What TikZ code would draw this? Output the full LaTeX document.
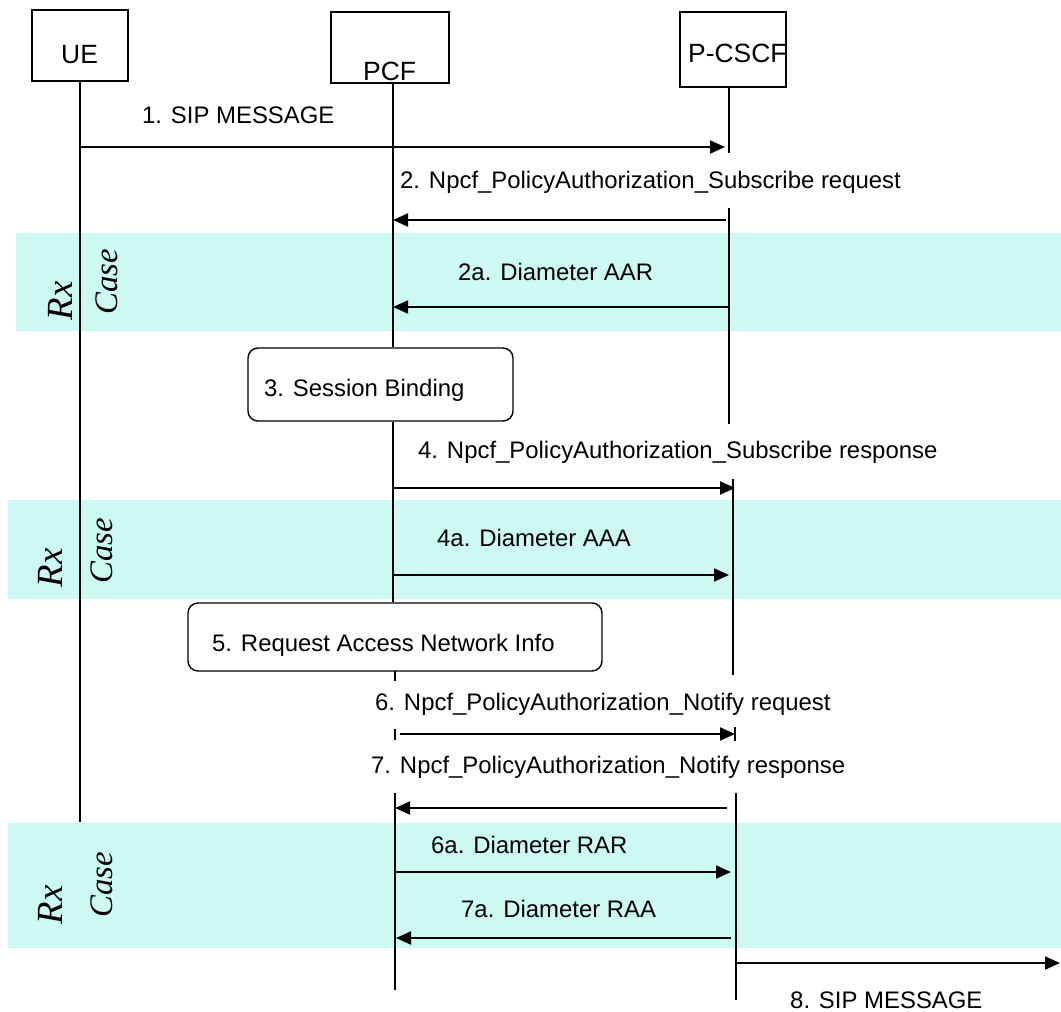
\documentclass[tikz,border=0pt]{standalone}
\usepackage{fontspec}
\setmainfont{Liberation Sans}
\newfontfamily\rxfont{Liberation Serif}
\usetikzlibrary{arrows.meta}
\definecolor{bandcol}{RGB}{204,250,242}
\begin{document}
\begin{tikzpicture}[x=1bp,y=-1bp,
  band/.style={fill=bandcol,draw=none},
  actor/.style={draw,line width=1.4bp,inner sep=0pt},
  proc/.style={draw,line width=1.4bp,rounded corners=10bp,inner sep=0pt},
  atext/.style={font=\fontsize{26.5}{30}\selectfont,inner sep=0pt,anchor=base west},
  lbl/.style={font=\fontsize{24}{28}\selectfont,inner sep=0pt,anchor=base west},
  life/.style={line width=1.5bp},
  msg/.style={line width=2bp,-{Triangle[length=15bp,width=13bp]}},
  rx/.style={font=\fontsize{37}{40}\selectfont\rxfont\itshape,rotate=90,anchor=base,inner sep=0pt},
  cs/.style={font=\fontsize{33}{36}\selectfont\rxfont\itshape,rotate=90,anchor=base,inner sep=0pt}]
\useasboundingbox (0,0) rectangle (1061,1012);
% bands
\fill[band] (16,233) rectangle (1061,331);
\fill[band] (8,500) rectangle (1061,599);
\fill[band] (8,823) rectangle (1061,948);
\node[rx] (rx1) at (72,301) {Rx};
\node[cs] (cs1) at (117,282) {Case};
\node[rx] (rx2) at (62,568) {Rx};
\node[cs] (cs2) at (112,551) {Case};
\node[rx] (rx3) at (62,905) {Rx};
\node[cs] (cs3) at (112,885) {Case};
% actors
\node[actor,minimum width=96bp,minimum height=71bp] (ue) at (80,45.5) {};
\node[atext] (uet) at (61,63) {UE};
\node[actor,minimum width=118bp,minimum height=71bp] (pcf) at (390,47.5) {};
\node[atext] (pcft) at (363,80) {PCF};
\node[actor,minimum width=106bp,minimum height=75bp] (pcscf) at (733,49.5) {};
\node[atext] (pcscft) at (688,62) {P-CSCF};
% process boxes
\node[proc,minimum width=265bp,minimum height=73bp] (sb) at (380.5,384.5) {};
\node[lbl] (sbt) at (264,396) {3. Session Binding};
\node[proc,minimum width=414bp,minimum height=68bp] (ran) at (395,637) {};
\node[lbl] (rant) at (212,651) {5. Request Access Network Info};
% lifelines
\coordinate (ueTop) at (80,81);
\coordinate (ueEnd) at (80,822);
\draw[life] (ueTop) -- (ueEnd);
\coordinate (pA) at (393,83);
\draw[life] (pA) -- (pA |- sb.north);
\draw[life] (pA |- sb.south) -- (pA |- ran.north);
\coordinate (pB) at (395,671);
\coordinate (pC) at (395,681);
\draw[life] (pB) -- (pC);
\coordinate (pD) at (395,729);
\coordinate (pE) at (395,740);
\draw[life] (pD) -- (pE);
\coordinate (pF) at (395,793);
\coordinate (pG) at (395,990);
\draw[life] (pF) -- (pG);
\coordinate (cA) at (729,87);
\coordinate (cB) at (729,153);
\draw[life] (cA) -- (cB);
\coordinate (cC) at (729,208);
\coordinate (cD) at (729,424);
\draw[life] (cC) -- (cD);
\coordinate (cE) at (733,479);
\coordinate (cF) at (733,675);
\draw[life] (cE) -- (cF);
\coordinate (cG) at (735,727);
\coordinate (cH) at (735,741);
\draw[life] (cG) -- (cH);
\coordinate (cI) at (736,793);
\coordinate (cJ) at (736,1000);
\draw[life] (cI) -- (cJ);
% messages
\coordinate (m1s) at (80,147);   \coordinate (m1e) at (725,147);
\draw[msg] (m1s) -- (m1e);
\node[lbl] (l1) at (142,123) {1. SIP MESSAGE};
\coordinate (m2s) at (726,220);  \coordinate (m2e) at (393,220);
\draw[msg] (m2s) -- (m2e);
\node[lbl] (l2) at (400,188) {2. Npcf\_PolicyAuthorization\_Subscribe request};
\coordinate (m2as) at (728,307); \coordinate (m2ae) at (393,307);
\draw[msg] (m2as) -- (m2ae);
\node[lbl] (l2a) at (458,280) {2a. Diameter AAR};
\coordinate (m4s) at (393,488);  \coordinate (m4e) at (735,488);
\draw[msg] (m4s) -- (m4e);
\node[lbl] (l4) at (418,458) {4. Npcf\_PolicyAuthorization\_Subscribe response};
\coordinate (m4as) at (394,575); \coordinate (m4ae) at (729,575);
\draw[msg] (m4as) -- (m4ae);
\node[lbl] (l4a) at (437,546) {4a. Diameter AAA};
\coordinate (m6s) at (400,734);  \coordinate (m6e) at (735,734);
\draw[msg] (m6s) -- (m6e);
\node[lbl] (l6) at (375,710) {6. Npcf\_PolicyAuthorization\_Notify request};
\coordinate (m7s) at (727,808);  \coordinate (m7e) at (395,808);
\draw[msg] (m7s) -- (m7e);
\node[lbl] (l7) at (371,773) {7. Npcf\_PolicyAuthorization\_Notify response};
\coordinate (m6as) at (395,872); \coordinate (m6ae) at (731,872);
\draw[msg] (m6as) -- (m6ae);
\node[lbl] (l6a) at (431,853) {6a. Diameter RAR};
\coordinate (m7as) at (731,938); \coordinate (m7ae) at (396,938);
\draw[msg] (m7as) -- (m7ae);
\node[lbl] (l7a) at (461,917) {7a. Diameter RAA};
\coordinate (m8s) at (737,963);  \coordinate (m8e) at (1060,963);
\draw[msg] (m8s) -- (m8e);
\node[lbl] (l8) at (790,1008) {8. SIP MESSAGE};
\end{tikzpicture}
\end{document}
